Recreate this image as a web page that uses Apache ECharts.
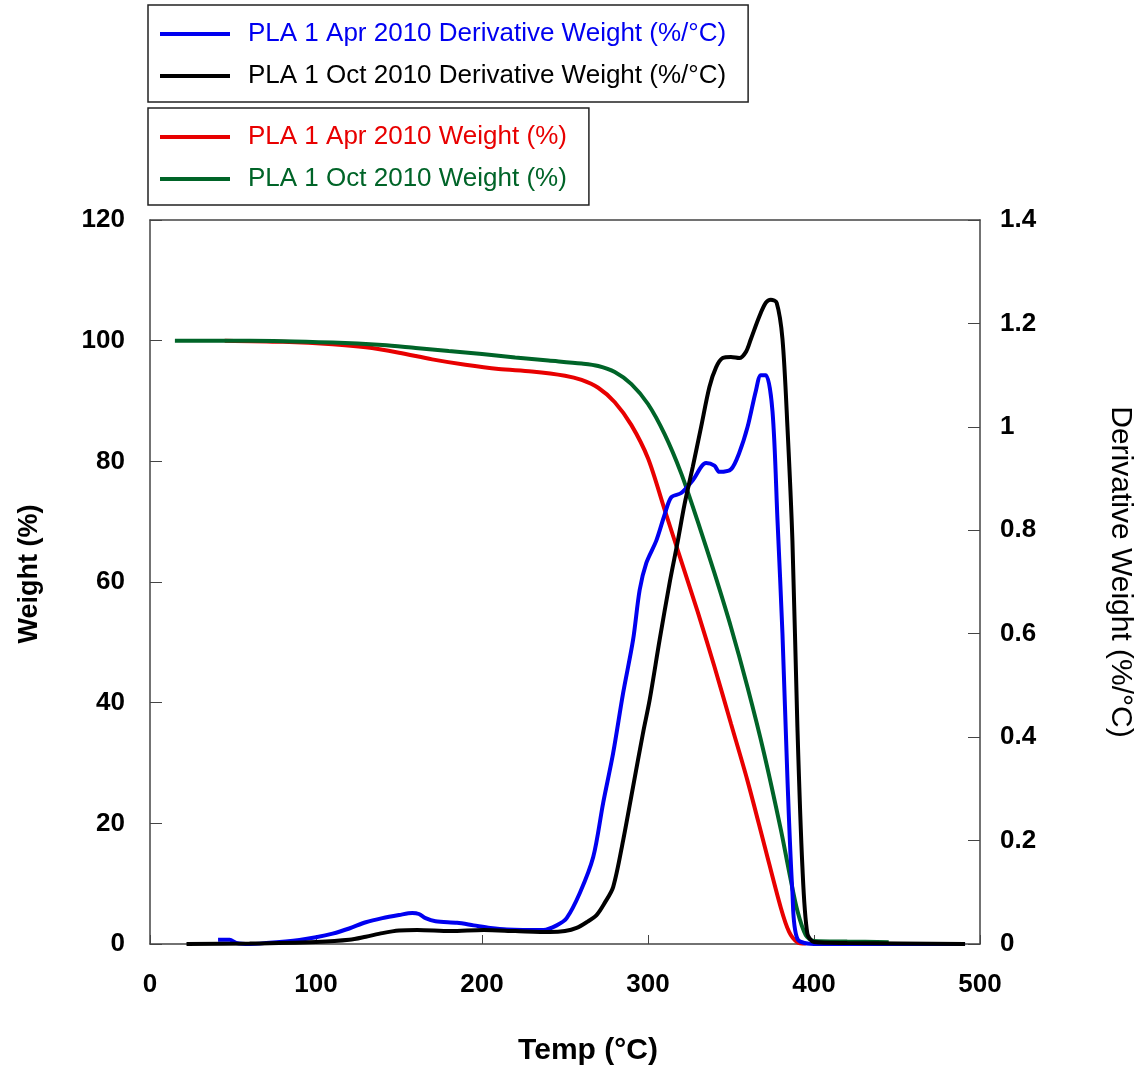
<!DOCTYPE html>
<html>
<head>
<meta charset="utf-8">
<script src="https://cdn.jsdelivr.net/npm/echarts@6/dist/echarts.min.js"></script>
<style>
  html, body { margin: 0; padding: 0; background: #fff; }
  #chart { width: 1143px; height: 1069px; }
</style>
</head>
<body>
<div id="chart"></div>
<script>
// temperatures (°C) and values
const aprWeightT = [45, 80, 110, 130, 150, 170, 190, 210, 230, 250, 260, 270, 280, 290, 300, 310, 320, 330, 340, 350, 360, 370, 380, 385, 390, 395];
const aprWeight  = [100, 99.8, 99.4, 98.9, 98.0, 96.9, 96.0, 95.3, 94.9, 94.2, 93.5, 92.2, 89.8, 86.0, 80.5, 72.0, 63.5, 55.0, 46.0, 36.5, 27.0, 16.5, 6.0, 2.0, 0.3, 0.1];

const octWeightT = [15, 60, 110, 140, 160, 180, 200, 220, 240, 260, 270, 280, 290, 300, 310, 320, 330, 340, 350, 360, 370, 380, 385, 390, 395, 400, 420, 445];
const octWeight  = [100, 100, 99.7, 99.3, 98.8, 98.3, 97.8, 97.2, 96.7, 96.2, 95.8, 94.8, 92.8, 89.5, 84.5, 78.0, 70.0, 61.5, 52.5, 42.5, 31.5, 19.0, 12.0, 5.5, 1.5, 0.5, 0.4, 0.3];

const aprDerivT = [41, 48, 52, 60, 70, 90, 100, 110, 120, 130, 140, 150, 158, 162, 166, 172, 185, 195, 205, 215, 237, 245, 251, 259, 267, 273, 279, 285, 291, 295, 299, 305, 310, 314, 320, 327, 335, 340, 343, 350, 355, 360, 365, 368, 371, 375, 378, 381, 384, 387, 390, 400, 420, 491];
const aprDeriv  = [0.008, 0.008, 0.002, 0, 0.002, 0.008, 0.013, 0.02, 0.03, 0.042, 0.05, 0.056, 0.06, 0.058, 0.05, 0.044, 0.041, 0.036, 0.031, 0.028, 0.027, 0.036, 0.05, 0.099, 0.168, 0.273, 0.369, 0.485, 0.588, 0.685, 0.737, 0.78, 0.83, 0.864, 0.872, 0.897, 0.93, 0.925, 0.913, 0.918, 0.95, 1.0, 1.07, 1.1, 1.1, 1.03, 0.82, 0.6, 0.32, 0.1, 0.01, 0, 0, 0];

const octDerivT = [22, 60, 100, 120, 130, 140, 150, 161, 181, 201, 220, 241, 250, 257, 263, 269, 274, 279, 285, 291, 297, 301, 307, 313, 318, 322, 327, 332, 337, 341, 345, 350, 355, 359, 362, 367, 371, 374, 377.5, 381, 384, 387, 390, 393, 396, 400, 420, 491];
const octDeriv  = [0, 0.001, 0.004, 0.008, 0.014, 0.021, 0.026, 0.027, 0.025, 0.027, 0.025, 0.023, 0.025, 0.031, 0.042, 0.056, 0.08, 0.11, 0.2, 0.304, 0.408, 0.472, 0.588, 0.698, 0.78, 0.85, 0.923, 1.0, 1.077, 1.115, 1.133, 1.135, 1.133, 1.145, 1.17, 1.213, 1.24, 1.246, 1.24, 1.17, 1.0, 0.78, 0.42, 0.15, 0.02, 0.004, 0.002, 0];

const names = [
  'PLA 1 Apr 2010 Derivative Weight (%/°C)',
  'PLA 1 Oct 2010 Derivative Weight (%/°C)',
  'PLA 1 Apr 2010 Weight (%)',
  'PLA 1 Oct 2010 Weight (%)'
];
const colors = ['#0000f0', '#000000', '#e80000', '#006428'];

const pairs = (xs, ys) => xs.map((x, i) => [x, ys[i]]);

const font = 'Arial, "Liberation Sans", sans-serif';
const axisColor = '#444';

const chart = echarts.init(document.getElementById('chart'));

const legendItem = i => ({ name: names[i], icon: 'rect', itemStyle: { color: colors[i] }, textStyle: { color: colors[i] } });
const legendBase = {
  orient: 'vertical',
  left: 148,
  itemWidth: 70,
  itemHeight: 4,
  itemGap: 16,
  borderColor: '#222',
  borderWidth: 1.5,
  borderRadius: 0,
  padding: [16, 22, 13, 12],
  selectedMode: false,
  textStyle: { fontFamily: font, fontSize: 26, padding: [0, 0, 0, 13] }
};

const option = {
  backgroundColor: '#fff',
  animation: false,
  legend: [
    Object.assign({}, legendBase, { top: 5, data: [legendItem(0), legendItem(1)] }),
    Object.assign({}, legendBase, { top: 108, data: [legendItem(2), legendItem(3)] })
  ],
  grid: { left: 150, right: 163, top: 220, bottom: 125, outerBoundsMode: 'none', containLabel: false },
  xAxis: [{
    type: 'value',
    min: 0, max: 500, interval: 100,
    name: 'Temp (°C)',
    nameLocation: 'middle',
    nameGap: 92,
    nameTextStyle: { fontFamily: font, fontSize: 30, fontWeight: 'bold', color: '#000', padding: [0, 0, 0, 46] },
    axisLine: { show: true, onZero: false, lineStyle: { color: axisColor, width: 1.5 } },
    axisTick: { show: true, inside: true, length: 9, lineStyle: { color: axisColor } },
    axisLabel: { margin: 28, fontFamily: font, fontSize: 26, fontWeight: 'bold', color: '#000' },
    splitLine: { show: false }
  }, {
    type: 'value',
    position: 'top',
    min: 0, max: 500,
    axisLine: { show: true, onZero: false, lineStyle: { color: axisColor, width: 1.5 } },
    axisTick: { show: false },
    axisLabel: { show: false },
    splitLine: { show: false }
  }],
  yAxis: [{
    type: 'value',
    min: 0, max: 120, interval: 20,
    name: 'Weight (%)',
    nameLocation: 'middle',
    nameGap: 107,
    nameTextStyle: { fontFamily: font, fontSize: 27, fontWeight: 'bold', color: '#000', padding: [0, 0, 0, 16] },
    axisLine: { show: true, onZero: false, lineStyle: { color: axisColor, width: 1.5 } },
    axisTick: { show: true, inside: true, length: 12, lineStyle: { color: axisColor } },
    axisLabel: { margin: 25, fontFamily: font, fontSize: 26, fontWeight: 'bold', color: '#000' },
    splitLine: { show: false }
  }, {
    type: 'value',
    position: 'right',
    min: 0, max: 1.4, interval: 0.2,
    name: 'Derivative Weight (%/°C)',
    nameLocation: 'middle',
    nameRotate: -90,
    nameGap: 125,
    nameTextStyle: { fontFamily: font, fontSize: 30, color: '#000', padding: [0, 20, 0, 0] },
    axisLine: { show: true, onZero: false, lineStyle: { color: axisColor, width: 1.5 } },
    axisTick: { show: true, inside: true, length: 12, lineStyle: { color: axisColor } },
    axisLabel: {
      margin: 20, fontFamily: font, fontSize: 26, fontWeight: 'bold', color: '#000',
      formatter: v => String(Math.round(v * 10) / 10)
    },
    splitLine: { show: false }
  }],
  series: [
    { name: names[2], type: 'line', yAxisIndex: 0, data: pairs(aprWeightT, aprWeight) },
    { name: names[3], type: 'line', yAxisIndex: 0, data: pairs(octWeightT, octWeight) },
    { name: names[0], type: 'line', yAxisIndex: 1, data: pairs(aprDerivT, aprDeriv) },
    { name: names[1], type: 'line', yAxisIndex: 1, data: pairs(octDerivT, octDeriv) }
  ].map(s => Object.assign(s, {
    showSymbol: false,
    smooth: 0.3,
    lineStyle: { width: 4, color: colors[names.indexOf(s.name)] },
    itemStyle: { color: colors[names.indexOf(s.name)] }
  }))
};

chart.setOption(option);
</script>
</body>
</html>
